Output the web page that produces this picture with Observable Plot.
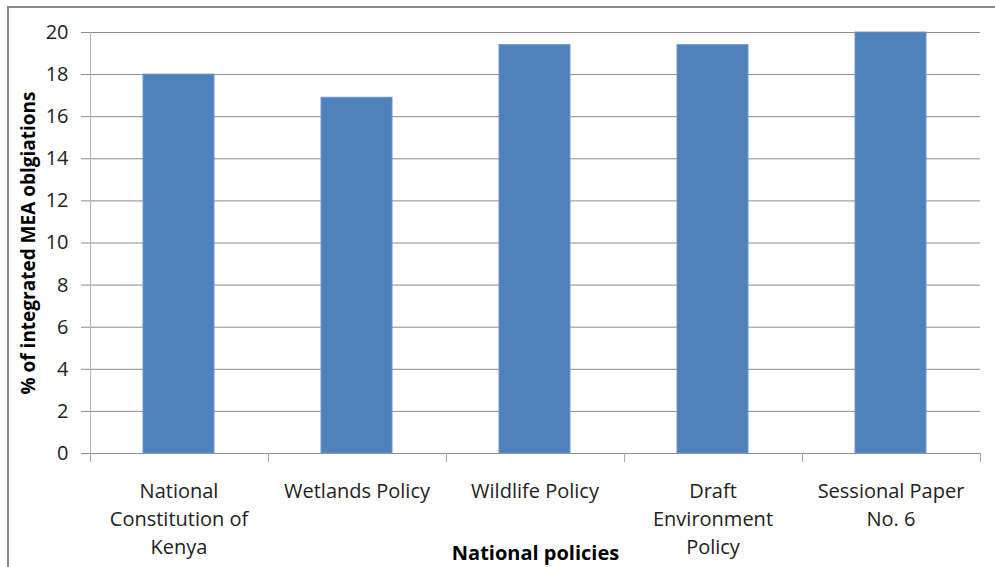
<!DOCTYPE html>
<html>
<head>
<meta charset="utf-8">
<script src="https://cdn.jsdelivr.net/npm/d3@7"></script>
<script src="https://cdn.jsdelivr.net/npm/@observablehq/plot@0.6"></script>
<style>
  html, body { margin: 0; padding: 0; background: #fff; }
  #chart svg { display: block; }
</style>
</head>
<body>
<div id="chart"></div>
<script>
// Share of integrated MEA obligations by national policy
const policies = [
  "National Constitution of Kenya",
  "Wetlands Policy",
  "Wildlife Policy",
  "Draft Environment Policy",
  "Sessional Paper No. 6"
];
const policyLabels = [
  "National\nConstitution of\nKenya",
  "Wetlands Policy",
  "Wildlife Policy",
  "Draft\nEnvironment\nPolicy",
  "Sessional Paper\nNo. 6"
];
const percentages = [18, 16.9, 19.4, 19.4, 20];
const yTicks = [0, 2, 4, 6, 8, 10, 12, 14, 16, 18, 20];

const data = policies.map((p, i) => ({policy: p, value: percentages[i]}));
const labelOf = new Map(policies.map((p, i) => [p, policyLabels[i]]));

const FONT = "'Open Sans', Lato, sans-serif";

// Chart border, left axis line and category separators on the baseline
function axisFrame(index, scales, values, dims) {
  const {width, height, marginLeft, marginRight, marginTop, marginBottom} = dims;
  const g = d3.create("svg:g");
  g.append("rect")
    .attr("x", 8).attr("y", 7)
    .attr("width", width + 20).attr("height", height + 20)
    .attr("fill", "none").attr("stroke", "#8a8a8a").attr("stroke-width", 2);
  const y0 = height - marginBottom;
  g.append("line")
    .attr("x1", marginLeft + 0.5).attr("x2", marginLeft + 0.5)
    .attr("y1", marginTop).attr("y2", y0)
    .attr("stroke", "#b4b4b4");
  const step = (width - marginLeft - marginRight) / policies.length;
  d3.range(policies.length + 1).forEach(i => {
    const x = Math.round(marginLeft + i * step) + 0.5;
    g.append("line")
      .attr("x1", x).attr("x2", x)
      .attr("y1", y0).attr("y2", y0 + 9)
      .attr("stroke", "#a8a8a8");
  });
  return g.node();
}

const chart = Plot.plot({
  width: 995,
  height: 567,
  marginLeft: 90,
  marginRight: 15,
  marginTop: 32,
  marginBottom: 114,
  style: {fontFamily: FONT, background: "#fff", overflow: "visible"},
  x: {domain: policies, paddingInner: 0.6, paddingOuter: 0.3, label: null},
  y: {domain: [0, 20], ticks: yTicks, label: null},
  marks: [
    Plot.ruleY(yTicks, {stroke: "#8c8c8c", strokeWidth: 1}),
    Plot.barY(data, {x: "policy", y: "value", fill: "#4f81bd", stroke: "#6f97c9", strokeWidth: 1}),
    axisFrame,
    Plot.axisY({
      ticks: yTicks, tickSize: 9, tickPadding: 13, stroke: "#8c8c8c",
      fontSize: 20, fill: "#222", label: null
    }),
    Plot.axisX({
      tickSize: 0, tickPadding: 25, fontSize: 20, fill: "#222",
      lineHeight: 1.4, tickFormat: d => labelOf.get(d), label: null
    }),
    Plot.text(["% of integrated MEA oblgiations"], {
      frameAnchor: "left", rotate: -90, dx: -62, textAnchor: "middle",
      fontSize: 19, fontWeight: "bold", fill: "#000"
    }),
    Plot.text(["National policies"], {
      frameAnchor: "bottom", dy: 106,
      fontSize: 20, fontWeight: "bold", fill: "#000"
    })
  ]
});

document.getElementById("chart").appendChild(chart);
</script>
</body>
</html>
